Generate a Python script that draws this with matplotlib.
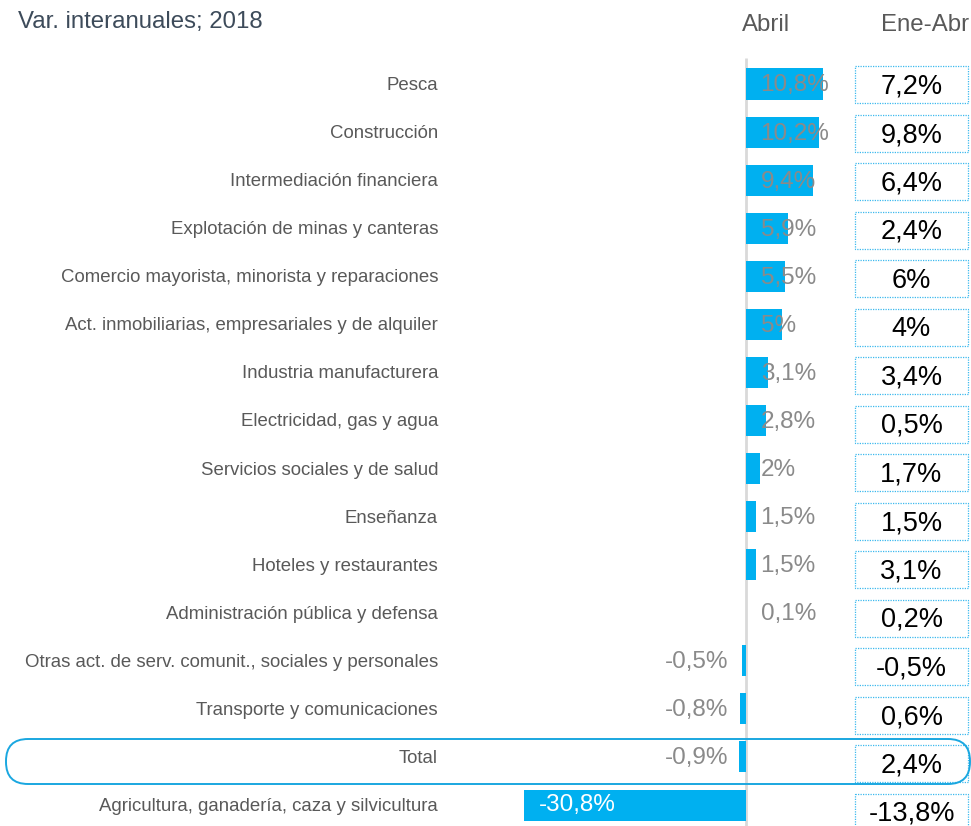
import matplotlib.pyplot as plt
from matplotlib.patches import FancyBboxPatch, Rectangle

plt.rcParams["font.family"] = ["Liberation Sans", "DejaVu Sans"]

# Data
sectors = [
    "Pesca",
    "Construcción",
    "Intermediación financiera",
    "Explotación de minas y canteras",
    "Comercio mayorista, minorista y reparaciones",
    "Act. inmobiliarias, empresariales y de alquiler",
    "Industria manufacturera",
    "Electricidad, gas y agua",
    "Servicios sociales y de salud",
    "Enseñanza",
    "Hoteles y restaurantes",
    "Administración pública y defensa",
    "Otras act. de serv. comunit., sociales y personales",
    "Transporte y comunicaciones",
    "Total",
    "Agricultura, ganadería, caza y silvicultura",
]
abril = [10.8, 10.2, 9.4, 5.9, 5.5, 5.0, 3.1, 2.8, 2.0, 1.5, 1.5, 0.1, -0.5, -0.8, -0.9, -30.8]
ene_abr = [7.2, 9.8, 6.4, 2.4, 6.0, 4.0, 3.4, 0.5, 1.7, 1.5, 3.1, 0.2, -0.5, 0.6, 2.4, -13.8]

BAR = "#00b0f0"
GRAY_TXT = "#8a8a8a"
LABEL_TXT = "#595959"


def pct(v):
    s = f"{v:.1f}".rstrip("0").rstrip(".")
    return s.replace(".", ",") + "%"


W, H = 971, 826
fig = plt.figure(figsize=(W / 100, H / 100), dpi=100)

# bar axes: zero at pixel 745.5, 7.2 px per point, rows every 48.07 px from y=84
zero_px, px_per = 745.5, 7.2
row0, row_step = 84.0, 48.07
ax = fig.add_axes([0, 0, 1, 1])
ax.set_xlim(-zero_px / px_per, (W - zero_px) / px_per)
ax.set_ylim((H - row0) / row_step, -row0 / row_step)
ax.axis("off")

ax.vlines(0, (58 - row0) / row_step, (H - row0) / row_step, color="#d9d9d9", lw=2, zorder=1)

ypos = list(range(len(sectors)))
ax.barh(ypos, abril, height=0.645, color=BAR, zorder=2)

for i, (name, v) in enumerate(zip(sectors, abril)):
    ax.text(-42.7, i + 0.03, name, ha="right", va="center", fontsize=13.4, color=LABEL_TXT)
    if v >= 0:
        ax.text(2.1, i + 0.03, pct(v), ha="left", va="center", fontsize=17.5, color=GRAY_TXT, zorder=3)
    elif v < -10:
        ax.text(v + 2.1, i, pct(v), ha="left", va="center", fontsize=17.5, color="white", zorder=3)
    else:
        ax.text(-2.4, i + 0.03, pct(v), ha="right", va="center", fontsize=17.5, color=GRAY_TXT, zorder=3)

# overlay in pixel coordinates for headers, boxes and outline
ov = fig.add_axes([0, 0, 1, 1], facecolor="none")
ov.set_xlim(0, W)
ov.set_ylim(H, 0)
ov.axis("off")

ov.text(18, 22, "Var. interanuales; 2018", ha="left", va="center", fontsize=17.3, color="#3d4b5a")
ov.text(766, 25, "Abril", ha="center", va="center", fontsize=17.3, color=LABEL_TXT)
ov.text(925, 25, "Ene-Abr", ha="center", va="center", fontsize=17.3, color=LABEL_TXT)

for i, v in enumerate(ene_abr):
    cy = 84.5 + 48.5 * i
    ov.add_patch(Rectangle((855, cy - 18.5), 113, 37, fill=False, ec="#3cb9ee", lw=0.9, ls=(0, (1, 1))))
    ov.text(911.5, cy + 2, pct(v), ha="center", va="center", fontsize=19.5, color="black")

ov.add_patch(FancyBboxPatch((6, 739), 964, 45, boxstyle="round,pad=0,rounding_size=22",
                            fill=False, ec="#1aa7e0", lw=1.4))

fig.savefig("out.png", dpi=100)
